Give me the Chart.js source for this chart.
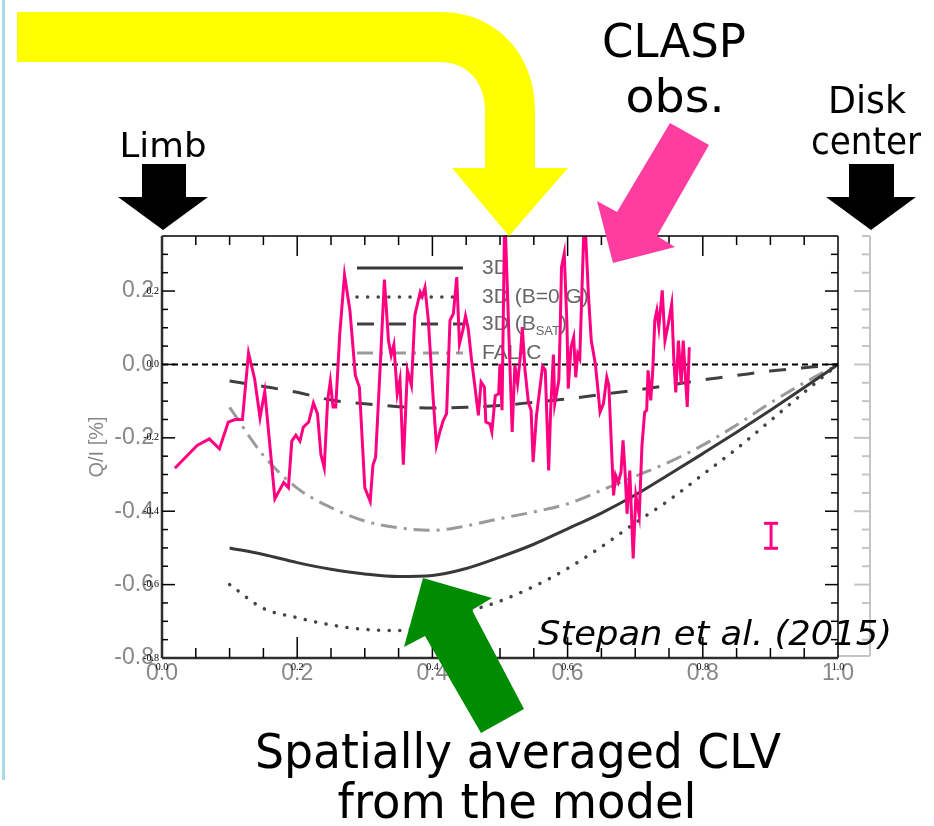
<!DOCTYPE html>
<html>
<head>
<meta charset="utf-8">
<title>Q/I center-to-limb variation</title>
<script src="https://cdn.jsdelivr.net/npm/chart.js@4.4.1/dist/chart.umd.min.js"></script>
<style>
  html, body { margin: 0; padding: 0; background: #fff; }
  #wrap { position: relative; width: 934px; height: 826px; overflow: hidden; }
  #edge { position: absolute; left: 2px; top: 0; width: 3px; height: 780px; background: #a9d9e6; }
</style>
</head>
<body>
<div id="wrap">
  <canvas id="clv" width="934" height="826"></canvas>
  <div id="edge"></div>
</div>
<script>

// ================= DATA =================

// model curves, sampled in mu
const modelMu  = [0.1, 0.15, 0.2, 0.25, 0.3, 0.35, 0.4, 0.45, 0.5, 0.55, 0.6, 0.65, 0.7, 0.75, 0.8, 0.85, 0.9, 0.95, 1.0];
const qi3D     = [-0.500, -0.518, -0.540, -0.558, -0.571, -0.578, -0.575, -0.556, -0.525, -0.490, -0.448, -0.405, -0.356, -0.300, -0.243, -0.185, -0.125, -0.063, 0];
const qi3DB0   = [-0.600, -0.665, -0.690, -0.710, -0.722, -0.725, -0.708, -0.675, -0.645, -0.605, -0.556, -0.497, -0.432, -0.370, -0.300, -0.230, -0.153, -0.076, 0];
const qi3DBsat = [-0.045, -0.060, -0.076, -0.097, -0.107, -0.115, -0.119, -0.117, -0.112, -0.103, -0.094, -0.082, -0.070, -0.057, -0.042, -0.030, -0.018, -0.009, 0];
const qiFALC   = [-0.117, -0.248, -0.337, -0.390, -0.427, -0.445, -0.452, -0.440, -0.420, -0.402, -0.380, -0.343, -0.305, -0.266, -0.220, -0.165, -0.105, -0.050, 0];

// CLASP Lyman-alpha observation
const claspMu = [
  0.019, 0.052, 0.070, 0.085, 0.098, 0.108, 0.119, 0.128, 0.137, 0.145,
  0.152, 0.167, 0.180, 0.187, 0.192, 0.198, 0.204, 0.209, 0.217, 0.224,
  0.230, 0.235, 0.240, 0.245, 0.249, 0.253, 0.257, 0.263, 0.270, 0.278,
  0.286, 0.292, 0.300, 0.308, 0.312, 0.316, 0.323, 0.329, 0.335, 0.339,
  0.343, 0.348, 0.352, 0.357, 0.363, 0.369, 0.374, 0.382, 0.385, 0.389,
  0.394, 0.401, 0.406, 0.411, 0.416, 0.421, 0.426, 0.431, 0.436, 0.440,
  0.445, 0.449, 0.453, 0.458, 0.463, 0.468, 0.472, 0.477, 0.479, 0.485,
  0.488, 0.493, 0.498, 0.500, 0.503, 0.507, 0.518, 0.522, 0.526, 0.530,
  0.533, 0.537, 0.542, 0.546, 0.549, 0.554, 0.558, 0.563, 0.567, 0.572,
  0.575, 0.579, 0.581, 0.587, 0.589, 0.591, 0.595, 0.599, 0.601, 0.605,
  0.609, 0.612, 0.615, 0.618, 0.625, 0.631, 0.635, 0.641, 0.645, 0.648,
  0.653, 0.658, 0.661, 0.668, 0.671, 0.675, 0.679, 0.682, 0.685, 0.688,
  0.692, 0.697, 0.701, 0.706, 0.710, 0.714, 0.717, 0.719, 0.723, 0.726,
  0.729, 0.732, 0.735, 0.740, 0.744, 0.749, 0.754, 0.757, 0.760, 0.764,
  0.768, 0.771, 0.774, 0.777, 0.780
];
const claspQI = [
  -0.283, -0.221, -0.203, -0.230, -0.157, -0.150, -0.150, 0.031, -0.039, -0.145,
  -0.073, -0.366, -0.322, -0.336, -0.209, -0.193, -0.209, -0.171, -0.157, -0.105,
  -0.134, -0.245, -0.282, -0.098, -0.046, -0.116, -0.116, 0.084, 0.244, 0.147,
  -0.030, -0.062, -0.336, -0.373, -0.275, -0.253, 0.002, 0.231, 0.065, 0.025,
  0.054, -0.080, -0.041, -0.273, -0.016, -0.057, 0.134, 0.197, 0.185, 0.210,
  0.120, -0.089, -0.221, -0.184, -0.153, -0.134, 0.120, 0.138, 0.238, 0.056,
  0.093, 0.132, 0.097, 0.011, -0.062, -0.139, -0.048, -0.062, -0.157, -0.162,
  -0.184, -0.085, -0.080, 0.002, -0.125, 0.420, -0.184, -0.003, -0.053, 0.020,
  0.102, -0.016, -0.103, -0.125, -0.266, -0.139, -0.080, -0.005, -0.016, -0.289,
  -0.121, 0.027, -0.107, -0.044, 0.093, 0.265, 0.302, 0.111, -0.066, 0.047,
  0.074, -0.035, 0.029, 0.016, 0.420, 0.183, 0.065, 0.002, -0.071, -0.130,
  -0.107, -0.035, -0.057, -0.357, -0.302, -0.321, -0.293, -0.207, -0.293, -0.407,
  -0.289, -0.529, -0.357, -0.411, -0.221, -0.130, -0.125, -0.016, -0.098, -0.016,
  0.120, 0.147, 0.102, 0.202, 0.065, 0.111, 0.165, 0.020, -0.076, 0.065,
  -0.053, 0.065, -0.025, -0.116, 0.047
];

// typical error of the observation
const errMu = [0.901, 0.901];
const errQI = [-0.433, -0.501];

// Q/I = 0 reference
const zeroMu = [0, 1];
const zeroQI = [0, 0];

const xTickValues = [0, 0.2, 0.4, 0.6, 0.8, 1.0];
const xTickLabels = ["0.0", "0.2", "0.4", "0.6", "0.8", "1.0"];
const yTickValues = [-0.8, -0.6, -0.4, -0.2, 0, 0.2];
const yTickLabels = ["-0.8", "-0.6", "-0.4", "-0.2", "0.0", "0.2"];

const GREY = "#878787";

function pts(xs, ys) {
  return xs.map((x, i) => ({ x: x, y: ys[i] }));
}


// ================= DRAWING HELPERS =================

function poly(ctx, p, color) {
  ctx.beginPath();
  p.forEach(([x, y], i) => (i ? ctx.lineTo(x, y) : ctx.moveTo(x, y)));
  ctx.closePath();
  ctx.fillStyle = color;
  ctx.fill();
}

// text squeezed/stretched to a given width
function fitText(ctx, text, cx, baseline, size, width, italic) {
  ctx.save();
  ctx.font = (italic ? "italic " : "") + size + 'px "DejaVu Sans"';
  const w = ctx.measureText(text).width;
  ctx.translate(cx, baseline);
  ctx.scale(width / w, 1);
  ctx.textAlign = "center";
  ctx.textBaseline = "alphabetic";
  ctx.fillStyle = "#000";
  ctx.fillText(text, 0, 0);
  ctx.restore();
}

function seg(ctx, x1, y1, x2, y2) {
  ctx.beginPath();
  ctx.moveTo(x1, y1);
  ctx.lineTo(x2, y2);
  ctx.stroke();
}


// ================= PLUGIN: FRAME, LEGEND, NOTES =================

const decorations = {
  id: "decorations",

  beforeDraw(chart) {
    const ctx = chart.ctx;
    ctx.save();
    ctx.fillStyle = "#fff";
    ctx.fillRect(0, 0, chart.width, chart.height);
    ctx.restore();
  },

  beforeDatasetsDraw(chart) {
    const ctx = chart.ctx;
    const xs = chart.scales.x, ys = chart.scales.y;

    // faint second copy of the right axis
    const gx = xs.getPixelForValue(1) + 32;
    ctx.save();
    ctx.strokeStyle = "#c4c4c4";
    ctx.lineWidth = 2;
    seg(ctx, gx, ys.getPixelForValue(0.35), gx, ys.getPixelForValue(-0.8) - 2);
    seg(ctx, xs.getPixelForValue(1), ys.getPixelForValue(-0.8) - 2, gx, ys.getPixelForValue(-0.8) - 2);
    for (let k = -15; k <= 7; k++) {
      const y = ys.getPixelForValue(k / 20);
      seg(ctx, gx, y, gx - (k % 4 === 0 ? 16 : 8), y);
    }
    ctx.restore();

    // legend
    ctx.save();
    const rows = chart.data.datasets.filter(d => d.legendY);
    rows.forEach(d => {
      ctx.strokeStyle = d.borderColor;
      ctx.lineWidth = d.borderWidth;
      ctx.lineCap = d.borderCapStyle || "butt";
      ctx.setLineDash(d.borderDash || []);
      seg(ctx, 357, d.legendY, 463, d.legendY);
    });
    ctx.setLineDash([]);
    ctx.fillStyle = "#666";
    ctx.textBaseline = "middle";
    ctx.textAlign = "left";
    ctx.font = '21px "Liberation Sans"';
    rows.forEach(d => {
      if (d.label === "3D (BSAT)") {
        ctx.font = '21px "Liberation Sans"';
        ctx.fillText("3D (B", 482, d.legendY);
        let x = 482 + ctx.measureText("3D (B").width;
        ctx.font = '13px "Liberation Sans"';
        ctx.fillText("SAT", x, d.legendY + 7);
        x += ctx.measureText("SAT").width;
        ctx.font = '21px "Liberation Sans"';
        ctx.fillText(")", x, d.legendY);
      } else {
        ctx.fillText(d.label, 482, d.legendY);
      }
    });
    ctx.restore();
  },

  afterDatasetsDraw(chart) {
    const ctx = chart.ctx;
    const a = chart.chartArea;
    const xs = chart.scales.x, ys = chart.scales.y;

    ctx.save();
    // box
    ctx.strokeStyle = "#000";
    ctx.lineWidth = 1.5;
    seg(ctx, a.left, a.top, a.right, a.top);
    seg(ctx, a.right, a.top, a.right, a.bottom);
    ctx.strokeStyle = "#2e2e2e";
    ctx.lineWidth = 2.5;
    seg(ctx, a.left, a.top, a.left, a.bottom);
    seg(ctx, a.left, a.bottom, a.right, a.bottom);

    // inward ticks, minor every 0.05
    ctx.strokeStyle = "#000";
    ctx.lineWidth = 1.5;
    for (let k = 1; k < 20; k++) {
      const x = xs.getPixelForValue(k / 20);
      const major = k % 4 === 0;
      seg(ctx, x, a.bottom, x, a.bottom - (major ? 21 : 10));
      seg(ctx, x, a.top, x, a.top + (major ? 20 : 9));
    }
    for (let k = -15; k <= 6; k++) {
      const y = ys.getPixelForValue(k / 20);
      const major = k % 4 === 0;
      seg(ctx, a.left, y, a.left + (major ? 13 : 6), y);
      seg(ctx, a.right, y, a.right - (major ? 13 : 7), y);
    }
    ctx.restore();
  },

  afterDraw(chart) {
    const ctx = chart.ctx;
    const xs = chart.scales.x, ys = chart.scales.y;

    // small black tick numbers
    ctx.save();
    ctx.fillStyle = "#000";
    ctx.font = '10px "Liberation Serif"';
    ctx.textBaseline = "middle";
    ctx.textAlign = "center";
    xTickValues.forEach((v, i) => ctx.fillText(xTickLabels[i], xs.getPixelForValue(v), 667));
    ctx.textAlign = "right";
    yTickValues.forEach((v, i) => ctx.fillText(yTickLabels[i], 159, ys.getPixelForValue(v)));
    ctx.restore();

    // yellow bent arrow
    ctx.save();
    ctx.beginPath();
    ctx.moveTo(17, 12);
    ctx.lineTo(440, 12);
    ctx.bezierCurveTo(497, 12, 535, 55, 535, 110);
    ctx.lineTo(535, 168);
    ctx.lineTo(568, 168);
    ctx.lineTo(509, 236);
    ctx.lineTo(452, 168);
    ctx.lineTo(485, 168);
    ctx.lineTo(485, 110);
    ctx.bezierCurveTo(485, 82, 467, 62, 440, 62);
    ctx.lineTo(17, 62);
    ctx.closePath();
    ctx.fillStyle = "#ffff00";
    ctx.fill();
    ctx.restore();

    // pink, green and black arrows
    poly(ctx, [[670, 123], [709, 145], [657, 236], [675, 247], [613, 263], [597, 201], [617, 212]], "#ff3ca0");
    poly(ctx, [[423, 578], [492, 598], [472, 610], [524, 709], [481, 733], [425, 636], [404, 647]], "#008c00");
    poly(ctx, [[142, 164], [186, 164], [186, 197], [208, 197], [163, 230], [118, 197], [142, 197]], "#000");
    poly(ctx, [[849, 164], [894, 164], [894, 197], [916, 197], [871, 230], [826, 197], [849, 197]], "#000");

    // notes
    fitText(ctx, "Limb", 163, 157, 34, 87);
    fitText(ctx, "Disk", 867, 113, 37, 78);
    fitText(ctx, "center", 866, 154, 37, 110);
    fitText(ctx, "CLASP", 674, 57, 46, 144);
    fitText(ctx, "obs.", 675, 112, 46, 99);
    fitText(ctx, "Stepan et al. (2015)", 715, 645, 34, 354, true);
    fitText(ctx, "Spatially averaged CLV", 518, 768, 48, 526);
    fitText(ctx, "from the model", 517, 818, 48, 359);
  }
};


// ================= CHART =================

const ctx = document.getElementById("clv").getContext("2d");

new Chart(ctx, {

  type: "line",

  data: {
    datasets: [
      {
        label: "CLASP",
        data: pts(claspMu, claspQI),
        borderColor: "#ff0080",
        borderWidth: 3,
        pointRadius: 0,
        tension: 0,
        order: 0
      },
      {
        label: "error",
        data: pts(errMu, errQI),
        borderColor: "#ff0080",
        borderWidth: 3,
        pointStyle: "line",
        pointRadius: 7,
        pointBorderWidth: 3,
        pointBorderColor: "#ff0080",
        order: 1
      },
      {
        label: "zero",
        data: pts(zeroMu, zeroQI),
        borderColor: "#000",
        borderWidth: 2,
        borderDash: [6, 4],
        pointRadius: 0,
        order: 2
      },
      {
        label: "3D",
        data: pts(modelMu, qi3D),
        borderColor: "#383838",
        borderWidth: 3,
        pointRadius: 0,
        cubicInterpolationMode: "monotone",
        legendY: 268,
        order: 3
      },
      {
        label: "3D (B=0 G)",
        data: pts(modelMu, qi3DB0),
        borderColor: "#444",
        borderWidth: 3.5,
        borderDash: [0.1, 10.5],
        borderCapStyle: "round",
        pointRadius: 0,
        cubicInterpolationMode: "monotone",
        legendY: 297,
        order: 4
      },
      {
        label: "3D (BSAT)",
        data: pts(modelMu, qi3DBsat),
        borderColor: "#404040",
        borderWidth: 3,
        borderDash: [17, 15],
        pointRadius: 0,
        cubicInterpolationMode: "monotone",
        legendY: 324,
        order: 5
      },
      {
        label: "FAL-C",
        data: pts(modelMu, qiFALC),
        borderColor: "#9a9a9a",
        borderWidth: 3,
        borderDash: [16, 7, 3, 7],
        pointRadius: 0,
        cubicInterpolationMode: "monotone",
        legendY: 353,
        order: 6
      }
    ]
  },

  options: {
    responsive: false,
    animation: false,
    layout: {
      padding: { top: 236, right: 96, bottom: 0, left: 0 }
    },
    plugins: {
      legend: { display: false },
      tooltip: { enabled: false }
    },
    scales: {
      x: {
        type: "linear",
        min: 0,
        max: 1,
        grid: { display: false, drawTicks: false },
        border: { display: false },
        afterBuildTicks: (s) => { s.ticks = xTickValues.map(v => ({ value: v })); },
        afterFit: (s) => { s.height = 168; },
        ticks: {
          callback: (v, i) => xTickLabels[i],
          color: GREY,
          font: { family: "Liberation Sans", size: 23 },
          padding: 2,
          maxRotation: 0,
          autoSkip: false
        }
      },
      y: {
        type: "linear",
        min: -0.8,
        max: 0.35,
        grid: { display: false, drawTicks: false },
        border: { display: false },
        afterBuildTicks: (s) => { s.ticks = yTickValues.map(v => ({ value: v })); },
        afterFit: (s) => { s.width = 162; },
        ticks: {
          callback: (v, i) => yTickLabels[i],
          color: GREY,
          font: { family: "Liberation Sans", size: 23 },
          padding: 8,
          autoSkip: false
        },
        title: {
          display: true,
          text: "Q/I [%]",
          color: GREY,
          font: { family: "Liberation Sans", size: 20 },
          padding: { top: 85 }
        }
      }
    }
  },

  plugins: [decorations]

});

</script>
</body>
</html>
